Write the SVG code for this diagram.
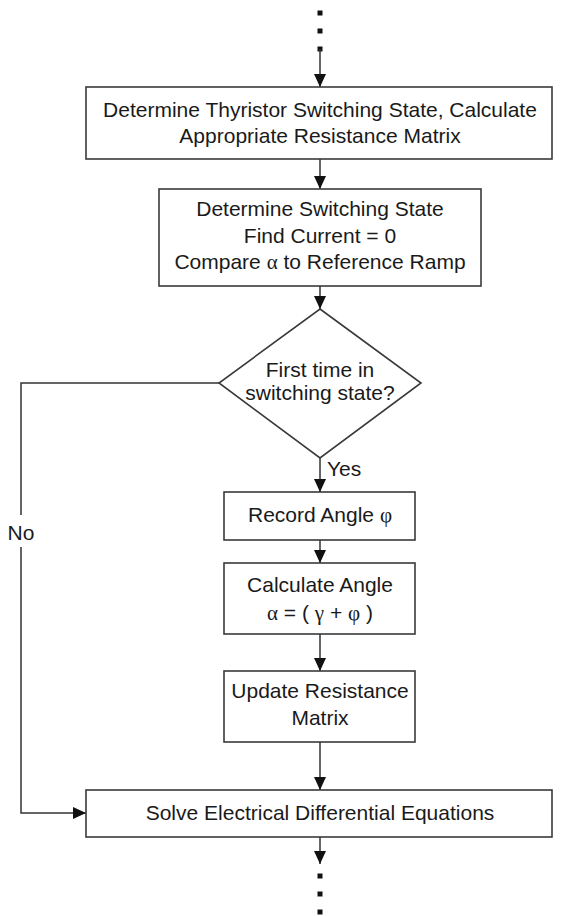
<svg xmlns="http://www.w3.org/2000/svg" width="577" height="916" viewBox="0 0 577 916">
<defs>
<marker id="arr" markerUnits="userSpaceOnUse" markerWidth="13" markerHeight="12" refX="13" refY="6" orient="auto">
<path d="M0,0 L13,6 L0,12 z" fill="#111"/>
</marker>
<style>
.box{fill:#fff;stroke:#3a3a3a;stroke-width:1.6}
.t{font-family:"Liberation Sans",Arial,sans-serif;font-size:21px;fill:#1a1a1a;text-anchor:middle}
.l{font-family:"Liberation Sans",Arial,sans-serif;font-size:21px;fill:#1a1a1a}
.g{font-family:"Liberation Serif","Times New Roman",serif}
.c{fill:none;stroke:#333;stroke-width:1.5}
.dot{fill:#111}
</style>
</defs>
<rect width="577" height="916" fill="#fff"/>
<g id="connectors">
<rect class="dot" x="317.5" y="10.5" width="5" height="5"/>
<rect class="dot" x="317.5" y="28.5" width="5" height="5"/>
<rect class="dot" x="317.5" y="46.5" width="5" height="5"/>
<line class="c" x1="320" y1="49" x2="320" y2="87" marker-end="url(#arr)"/>
<line class="c" x1="320" y1="159" x2="320" y2="189" marker-end="url(#arr)"/>
<line class="c" x1="320" y1="286" x2="320" y2="309" marker-end="url(#arr)"/>
<line class="c" x1="320" y1="458" x2="320" y2="492" marker-end="url(#arr)"/>
<line class="c" x1="320" y1="540" x2="320" y2="563" marker-end="url(#arr)"/>
<line class="c" x1="320" y1="634" x2="320" y2="671" marker-end="url(#arr)"/>
<line class="c" x1="320" y1="742" x2="320" y2="790" marker-end="url(#arr)"/>
<line class="c" x1="320" y1="837" x2="320" y2="864" marker-end="url(#arr)"/>
<rect class="dot" x="317.5" y="873.5" width="5" height="5"/>
<rect class="dot" x="317.5" y="891.5" width="5" height="5"/>
<rect class="dot" x="317.5" y="909.5" width="5" height="5"/>
<path class="c" d="M219,383 H21 V515"/>
<path class="c" d="M21,547 V813 H86" marker-end="url(#arr)"/>
<text class="l" x="327" y="476">Yes</text>
<text class="t" x="21" y="540">No</text>
</g>
<g id="n1">
<rect class="box" x="86" y="87" width="466" height="72"/>
<text class="t" x="320" y="117">Determine Thyristor Switching State, Calculate</text>
<text class="t" x="320" y="143">Appropriate Resistance Matrix</text>
</g>
<g id="n2">
<rect class="box" x="159" y="189" width="322" height="97"/>
<text class="t" x="320" y="216">Determine Switching State</text>
<text class="t" x="320" y="243">Find Current = 0</text>
<text class="t" x="320" y="269">Compare <tspan class="g">α</tspan> to Reference Ramp</text>
</g>
<g id="n3">
<polygon class="box" points="320,309 421,383 320,458 219,383"/>
<text class="t" x="320" y="377">First time in</text>
<text class="t" x="320" y="400">switching state?</text>
</g>
<g id="n4">
<rect class="box" x="224" y="492" width="191" height="48"/>
<text class="t" x="320" y="522">Record Angle <tspan class="g">φ</tspan></text>
</g>
<g id="n5">
<rect class="box" x="224" y="563" width="191" height="71"/>
<text class="t" x="320" y="592">Calculate Angle</text>
<text class="t" x="320" y="620"><tspan class="g">α</tspan> = ( <tspan class="g">γ</tspan> + <tspan class="g">φ</tspan> )</text>
</g>
<g id="n6">
<rect class="box" x="224" y="671" width="191" height="71"/>
<text class="t" x="320" y="698">Update Resistance</text>
<text class="t" x="320" y="725">Matrix</text>
</g>
<g id="n7">
<rect class="box" x="86" y="790" width="466" height="47"/>
<text class="t" x="320" y="820">Solve Electrical Differential Equations</text>
</g>
</svg>
